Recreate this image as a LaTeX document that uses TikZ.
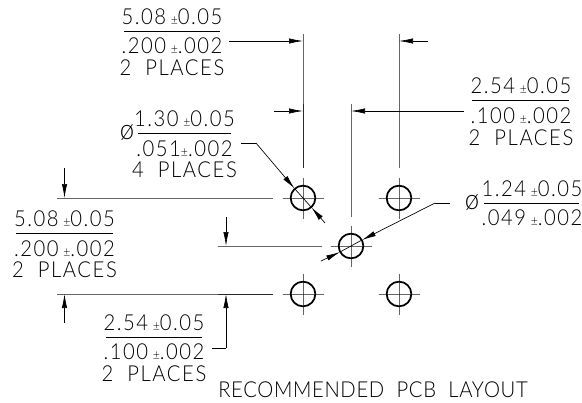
\documentclass[tikz,border=0pt]{standalone}
\usepackage{fontspec}
\setmainfont[UprightFont=* Light,LetterSpace=7.0,FakeStretch=.92,WordSpace=2.0]{Lato}
\usetikzlibrary{arrows.meta}
\usetikzlibrary{calc}
\newcommand{\tol}{\hspace{3.5pt}{\fontsize{10}{10}\selectfont ±}}
\newcommand{\dia}{{\fontsize{21}{21}\selectfont ø}}
\tikzset{hole/.style={circle, draw, line width=1.3pt, minimum size=18.5pt, inner sep=0pt},
         extline/.style={line width=.75pt, opacity=.6},
         dimline/.style={line width=.5pt, -{Latex[length=10.5pt,width=4pt]}},
         leader/.style={line width=.5pt},
         bar/.style={line width=.6pt},
         txt/.style={inner sep=0pt, font=\fontsize{16.5}{16.5}\selectfont}}

\begin{document}
\begin{tikzpicture}[x=.75pt, y=-.75pt]
    \useasboundingbox (0,0) rectangle (582,403);
    % holes
    \node[hole] (H1) at (303,198) {};
    \node[hole] (H2) at (399,198) {};
    \node[hole] (H3) at (351,246) {};
    \node[hole] (H4) at (303,294) {};
    \node[hole] (H5) at (399,294) {};
    \foreach \h in {H1,H2,H3,H4,H5} {
      \draw[extline] ($(\h)+(-20.5,0)$) -- ($(\h)+(20.5,0)$);
      \draw[extline] ($(\h)+(0,-20.5)$) -- ($(\h)+(0,20.5)$);
    }
    % extension lines
    \coordinate (V1a) at (303,34);  \coordinate (V1b) at (303,104); \coordinate (V1c) at (303,168);
    \coordinate (V2a) at (399,34);  \coordinate (V2c) at (399,168);
    \coordinate (V3a) at (351,104); \coordinate (V3c) at (351,217);
    \coordinate (L1a) at (57,198);  \coordinate (L1c) at (273,198);
    \coordinate (L2a) at (218,246); \coordinate (L2c) at (322,246);
    \coordinate (L3a) at (57,294);  \coordinate (L3b) at (218,294); \coordinate (L3c) at (273,294);
    \draw[extline] (V1a) -- (V1c);
    \draw[extline] (V1b) -- (V1c);
    \draw[extline] (V2a) -- (V2c);
    \draw[extline] (V3a) -- (V3c);
    \draw[extline] (L1a) -- (L1c);
    \draw[extline] (L2a) -- (L2c);
    \draw[extline] (L3a) -- (L3c);
    \draw[extline] (L3b) -- (L3c);
    % dimension texts
    \node[txt] (A1) at (172,16.5) {5.08\tol0.05};
    \node[txt] (A2) at (172,46) {.200\tol.002};
    \node[txt] (A3) at (172,67.5) {2 PLACES};
    \node[txt] (B1) at (184.5,118.5) {1.30\tol0.05};
    \node[txt] (B2) at (184.5,148.5) {.051{\fontsize{10}{10}\selectfont ±}.002};
    \node[txt] (B3) at (184.5,169.5) {4 PLACES};
    \node[txt] (B0) at (127,133) {\dia};
    \node[txt] (C1) at (521,86) {2.54\tol0.05};
    \node[txt] (C2) at (521,115.5) {.100\tol.002};
    \node[txt] (C3) at (521,137.5) {2 PLACES};
    \node[txt] (D1) at (532,188.5) {1.24\tol0.05};
    \node[txt] (D2) at (532,218) {.049\tol.002};
    \node[txt] (D0) at (472,203) {\dia};
    \node[txt] (E1) at (64.5,218.5) {5.08\tol0.05};
    \node[txt] (E2) at (64.5,248.5) {.200\tol.002};
    \node[txt] (E3) at (64.5,269.5) {2 PLACES};
    \node[txt] (F1) at (154,323) {2.54\tol0.05};
    \node[txt] (F2) at (154,352) {.100\tol.002};
    \node[txt] (F3) at (154,373.5) {2 PLACES};
    \node[txt] (G) at (373,389.5) {\addfontfeature{LetterSpace=3.0}RECOMMENDED PCB LAYOUT};
    % fraction bars
    \coordinate (Aw) at (124,31);  \coordinate (Ae) at (220,31);
    \coordinate (Bw) at (138,133); \coordinate (Be) at (231,133);
    \coordinate (Cw) at (472,100); \coordinate (Ce) at (569,100);
    \coordinate (Dw) at (484,203); \coordinate (De) at (579,203);
    \coordinate (Ew) at (16,233);  \coordinate (Ee) at (113,233);
    \coordinate (Fw) at (106,337); \coordinate (Fe) at (202,337);
    \foreach \s/\t in {Aw/Ae,Bw/Be,Cw/Ce,Dw/De,Ew/Ee,Fw/Fe}
      \draw[bar] (\s) -- (\t);
    % dimension arrows
    \coordinate (T1) at (303,41);   \coordinate (S1) at (229,41);
    \coordinate (T2) at (303,111);  \coordinate (S2) at (274,111);
    \coordinate (T3) at (399,41);   \coordinate (S3) at (428,41);
    \coordinate (T4) at (351,111);  \coordinate (S4) at (464,111);
    \coordinate (T5) at (64.5,198); \coordinate (S5) at (64.5,168);
    \coordinate (T6) at (64.5,294); \coordinate (S6) at (64.5,323);
    \coordinate (T7) at (226,246);  \coordinate (S7) at (226,217);
    \coordinate (T8) at (226,294);  \coordinate (S8) at (226,348);
    \coordinate (S8b) at (212,348);
    \path[dimline]
      (S1) edge (T1)
      (S2) edge (T2)
      (S3) edge (T3)
      (S4) edge (T4)
      (S5) edge (T5)
      (S6) edge (T6)
      (S7) edge (T7)
      (S8) edge (T8);
    \draw[leader] (S8b) -- (S8);
    % hole diameter leaders
    \coordinate (P1) at (241,143); \coordinate (P2) at (256,143);
    \coordinate (P3) at (294.5,188.5); \coordinate (P4) at (311.5,207.5);
    \coordinate (P5) at (325,223);
    \coordinate (Q1) at (450,203); \coordinate (Q2) at (435,203);
    \coordinate (Q3) at (362,240); \coordinate (Q4) at (340,252);
    \coordinate (Q5) at (321,261);
    \draw[leader] (P1) -- (P2);
    \draw[dimline] (P2) -- (P3);
    \draw[leader] (P3) -- (P4);
    \draw[dimline] (P5) -- (P4);
    \draw[leader] (Q1) -- (Q2);
    \draw[dimline] (Q2) -- (Q3);
    \draw[leader] (Q3) -- (Q4);
    \draw[dimline] (Q5) -- (Q4);
\end{tikzpicture}
\end{document}
